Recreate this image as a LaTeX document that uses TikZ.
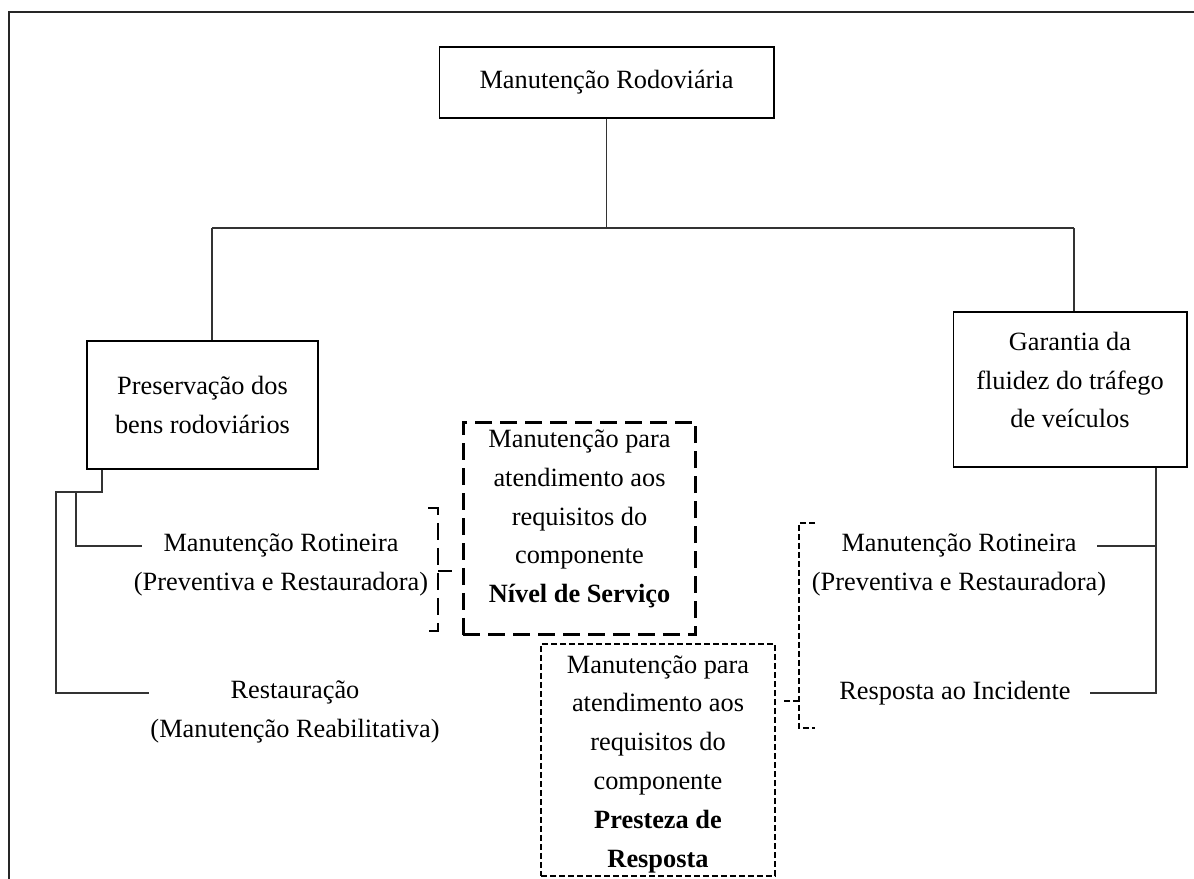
\documentclass[tikz,border=0pt]{standalone}
\usepackage{fontspec}
\setmainfont{Liberation Serif}
\usetikzlibrary{calc}
\begin{document}
\begin{tikzpicture}[x=0.02cm,y=-0.02cm,
  txt/.style={font=\fontsize{15}{22.1}\selectfont, align=center, inner sep=0pt},
  box/.style={draw=black, line width=0.6pt, inner sep=0pt},
  longdash/.style={line width=1.7pt, dash pattern=on 0.34cm off 0.16cm},
  shortdash/.style={line width=1.6pt, dash pattern=on 0.12cm off 0.06cm},
  tree/.style={line width=0.65pt, draw=black!80}]
\useasboundingbox (0,0) rectangle (1194,879);
% page frame (left and top edges only)
\draw[line width=0.8pt, black!85] (9,879) -- (9,12) -- (1194,12);

% boxes
\node[box, txt, minimum width=6.7cm, minimum height=1.42cm] (top) at (606.5,82.5) {Manutenção Rodoviária};
\node[box, txt, minimum width=4.62cm, minimum height=2.56cm] (lbox) at (202.5,405) {Preservação dos\\bens rodoviários};
\node[box, minimum width=4.68cm, minimum height=3.1cm] (rbox) at (1070,389.5) {};
\node[txt] (rboxtxt) at (1070,380) {Garantia da\\fluidez do tráfego\\de veículos};
\node[draw, longdash, inner sep=0pt, minimum width=4.66cm, minimum height=4.26cm] (nivel) at (579.5,528.5) {};
\node[txt] (niveltxt) at (579.5,519)
  {Manutenção para\\atendimento aos\\requisitos do\\componente\\\textbf{Nível de Serviço}};
\node[draw, shortdash, inner sep=0pt, minimum width=4.68cm, minimum height=4.64cm] (presteza) at (658,760) {};
\node[txt] (prestezatxt) at (658,764)
  {Manutenção para\\atendimento aos\\requisitos do\\componente\\\textbf{Presteza de}\\\textbf{Resposta}};

% labels
\node[txt] (lrot) at (281,565) {Manutenção Rotineira\\(Preventiva e Restauradora)};
\node[txt] (lres) at (295,712) {Restauração\\(Manutenção Reabilitativa)};
\node[txt] (rrot) at (959,565) {Manutenção Rotineira\\(Preventiva e Restauradora)};
\node[txt] (rres) at (955,693) {Resposta ao Incidente};

% main tree
\coordinate (barL) at (212,228);
\coordinate (barR) at (1074,228);
\draw[tree] (top.south) -- (top.south |- barL);
\draw[tree] (barL) -- (barR);
\draw[tree] (barL) -- (barL |- lbox.north);
\draw[tree] (barR) -- (barR |- rbox.north);

% left branches
\coordinate (lj) at (102,492);
\coordinate (lja) at (56,492);
\coordinate (ljb) at (76,492);
\coordinate (lrotend) at (142,546);
\coordinate (lresend) at (149,693);
\draw[tree] (lbox.south -| lj) -- (lj) -- (lja) |- (lresend);
\draw[tree] (ljb) |- (lrotend);

% right branches
\coordinate (rj) at (1156,693);
\coordinate (rrotend) at (1097,546);
\coordinate (rresend) at (1090,693);
\draw[tree] (rbox.south -| rj) -- (rj) -- (rresend);
\draw[tree] (rrotend) -- (rrotend -| rj);

% brackets
\coordinate (lbrtip) at (452,571);
\coordinate (rbrtip) at (782,701);
\draw[longdash] (428,508) -- (438,508) -- (438,631) -- (428,631);
\draw[longdash] (438,571) -- (lbrtip);
\draw[shortdash] (815,523) -- (799,523) -- (799,728) -- (815,728);
\draw[shortdash] (799,701) -- (rbrtip);
\end{tikzpicture}
\end{document}
